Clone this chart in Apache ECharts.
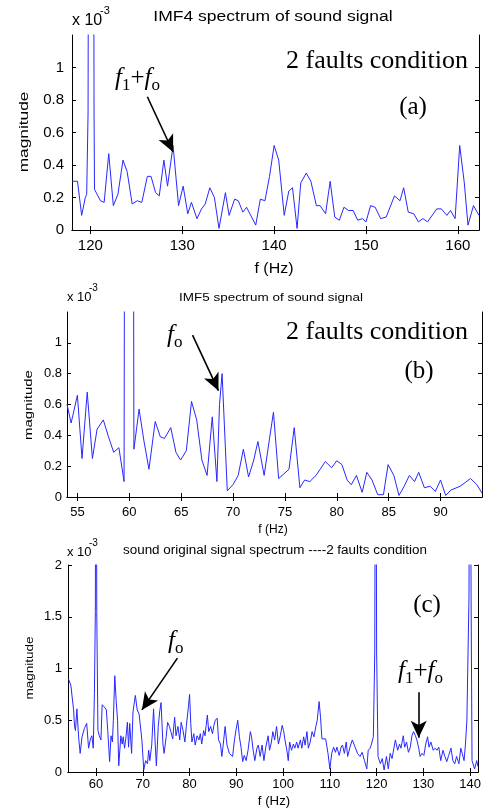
<!DOCTYPE html>
<html>
<head>
<meta charset="utf-8">
<script src="https://cdn.jsdelivr.net/npm/echarts@6/dist/echarts.min.js"></script>
<style>
  html, body { margin: 0; padding: 0; background: #fff; }
  #main { width: 484px; height: 811px; }
</style>
</head>
<body>
<div id="main"></div>
<script>
// panel (a): IMF4 spectrum, magnitude in units of 1e-3
const freqA = [118.0, 118.6, 119.05, 119.45, 119.6, 119.75, 119.85, 120.3, 120.4, 120.45, 121.1, 121.5, 122.0, 122.5, 123.0, 123.55, 124.0, 124.55, 125.1, 125.6, 126.2, 126.6, 127.1, 127.5, 128.0, 128.4, 129.0, 129.6, 130.1, 130.6, 131.0, 131.6, 132.1, 132.5, 133.0, 133.5, 134.0, 134.7, 135.1, 135.7, 136.1, 136.6, 137.0, 138.0, 138.5, 139.0, 139.5, 140.0, 140.5, 141.1, 141.6, 142.0, 142.5, 142.9, 143.5, 144.0, 144.6, 145.0, 145.6, 146.1, 146.6, 147.1, 147.6, 148.1, 148.6, 149.1, 149.6, 150.0, 150.5, 151.0, 151.6, 152.2, 153.1, 153.7, 154.1, 154.6, 155.2, 155.7, 156.2, 156.7, 157.7, 158.2, 158.8, 159.2, 159.7, 160.2, 160.7, 161.1, 161.7, 162.3]
const magA = [0.30, 0.30, 0.09, 0.20, 0.22, 0.72, 4.0, 4.0, 0.72, 0.25, 0.18, 0.17, 0.47, 0.15, 0.22, 0.43, 0.36, 0.16, 0.18, 0.17, 0.33, 0.33, 0.23, 0.21, 0.43, 0.27, 0.52, 0.15, 0.27, 0.10, 0.17, 0.07, 0.13, 0.16, 0.26, 0.20, 0.01, 0.23, 0.09, 0.19, 0.18, 0.11, 0.14, 0.03, 0.19, 0.18, 0.33, 0.52, 0.43, 0.09, 0.24, 0.26, 0.01, 0.29, 0.35, 0.30, 0.15, 0.15, 0.10, 0.30, 0.08, 0.06, 0.14, 0.12, 0.12, 0.06, 0.07, 0.05, 0.15, 0.14, 0.07, 0.08, 0.21, 0.18, 0.26, 0.11, 0.10, 0.05, 0.07, 0.05, 0.13, 0.13, 0.09, 0.12, 0.07, 0.52, 0.29, 0.03, 0.15, 0.09]

// panel (b): IMF5 spectrum
const freqB = [54.0, 54.4, 55.0, 55.45, 55.95, 56.45, 56.9, 57.5, 58.0, 58.5, 59.0, 59.5, 59.6, 60.35, 60.45, 60.95, 61.4, 61.9, 62.5, 63.0, 63.4, 64.0, 64.5, 64.95, 65.5, 66.0, 66.5, 67.0, 67.5, 68.0, 68.45, 68.7, 68.95, 69.45, 70.0, 70.5, 71.0, 71.5, 72.0, 72.4, 73.0, 73.5, 73.9, 74.4, 74.9, 75.4, 75.9, 76.45, 76.9, 77.4, 78.0, 78.4, 78.9, 79.5, 80.0, 80.5, 81.0, 81.4, 81.9, 82.45, 82.9, 83.4, 83.95, 84.5, 84.95, 85.5, 86.0, 86.5, 87.0, 87.5, 87.9, 88.45, 89.0, 89.5, 90.0, 90.5, 91.0, 91.9, 92.9, 93.5, 94.0]
const magB = [0.60, 0.48, 0.66, 0.25, 0.68, 0.25, 0.44, 0.50, 0.39, 0.29, 0.32, 0.10, 4.0, 4.0, 0.31, 0.57, 0.37, 0.18, 0.49, 0.39, 0.38, 0.45, 0.29, 0.24, 0.30, 0.62, 0.50, 0.24, 0.14, 0.52, 0.10, 0.60, 0.80, 0.04, 0.08, 0.14, 0.31, 0.13, 0.24, 0.36, 0.14, 0.37, 0.55, 0.12, 0.15, 0.18, 0.45, 0.06, 0.11, 0.10, 0.14, 0.18, 0.23, 0.19, 0.235, 0.21, 0.11, 0.08, 0.14, 0.03, 0.16, 0.11, 0.015, 0.015, 0.21, 0.14, 0.01, 0.07, 0.14, 0.10, 0.16, 0.06, 0.07, 0.036, 0.11, 0.01, 0.045, 0.07, 0.12, 0.08, 0.025]

// panel (c): original signal spectrum
const freqC = [54.1, 54.6, 55.2, 55.4, 55.6, 55.9, 56.3, 56.6, 57.0, 57.5, 58.0, 58.4, 58.8, 59.1, 59.4, 59.65, 59.85, 60.0, 60.15, 60.4, 60.7, 61.05, 61.3, 61.75, 62.2, 62.5, 62.9, 63.2, 63.5, 63.7, 64.0, 64.3, 64.6, 64.85, 65.3, 65.6, 65.8, 66.1, 66.4, 66.7, 66.95, 67.2, 67.6, 67.9, 68.4, 68.8, 69.2, 69.5, 69.8, 70.2, 70.6, 71.0, 71.25, 71.5, 71.9, 72.3, 72.65, 72.9, 73.3, 73.6, 73.9, 74.3, 74.55, 75.0, 75.3, 75.7, 76.0, 76.4, 76.8, 77.1, 77.5, 77.9, 78.2, 78.6, 79.0, 79.3, 79.75, 80.0, 80.25, 80.5, 80.9, 81.2, 81.6, 82.0, 82.3, 82.6, 83.0, 83.3, 83.55, 83.8, 84.1, 84.5, 84.9, 85.2, 85.5, 85.9, 86.2, 86.6, 86.9, 87.3, 87.6, 88.0, 88.5, 88.8, 89.2, 89.6, 89.9, 90.3, 90.65, 91.0, 91.35, 91.7, 92.1, 92.5, 93.0, 93.25, 93.6, 93.95, 94.4, 94.7, 95.1, 95.5, 95.9, 96.3, 96.8, 97.1, 97.5, 97.8, 98.2, 98.6, 99.0, 99.4, 99.8, 100.1, 100.4, 100.8, 101.1, 101.4, 101.8, 102.2, 102.5, 102.9, 103.2, 103.7, 104.0, 104.4, 104.7, 105.1, 105.4, 105.8, 106.2, 106.6, 107.0, 107.3, 107.7, 108.0, 108.3, 108.7, 109.1, 109.6, 110.0, 110.4, 110.8, 111.2, 111.5, 112.0, 112.4, 112.7, 113.1, 113.5, 113.8, 114.3, 114.8, 115.4, 115.9, 116.45, 116.9, 117.4, 117.9, 118.2, 118.6, 118.9, 119.3, 119.6, 119.8, 120.0, 120.3, 120.8, 121.2, 121.6, 122.1, 122.5, 122.9, 123.3, 123.7, 124.0, 124.5, 124.9, 125.2, 125.7, 126.0, 126.4, 126.8, 127.2, 127.55, 127.9, 128.3, 128.6, 129.0, 129.3, 129.7, 130.1, 130.5, 130.9, 131.2, 131.6, 132.1, 132.5, 132.9, 133.3, 133.7, 134.2, 134.6, 135.0, 135.4, 135.9, 136.3, 136.7, 137.1, 137.6, 138.0, 138.3, 138.7, 139.0, 139.3, 139.75, 139.95, 140.2, 140.4, 140.95, 141.4, 141.7]
const magC = [0.90, 0.84, 0.60, 0.44, 0.40, 0.61, 0.32, 0.18, 0.34, 0.42, 0.47, 0.23, 0.32, 0.35, 0.23, 0.76, 1.55, 5.0, 1.55, 0.40, 0.35, 0.31, 0.65, 0.63, 0.60, 0.40, 0.10, 0.35, 0.29, 0.50, 0.93, 0.69, 0.50, 0.06, 0.35, 0.27, 0.34, 0.23, 0.34, 0.48, 0.24, 0.47, 0.18, 0.58, 0.74, 0.60, 0.56, 0.55, 0.31, 0.02, 0.11, 0.08, 0.21, 0.11, 0.26, 0.61, 0.27, 0.06, 0.44, 0.58, 0.67, 0.27, 0.18, 0.34, 0.48, 0.44, 0.39, 0.32, 0.53, 0.35, 0.44, 0.31, 0.48, 0.40, 0.29, 0.44, 0.63, 0.75, 0.47, 0.29, 0.37, 0.26, 0.35, 0.31, 0.37, 0.27, 0.40, 0.35, 0.45, 0.55, 0.39, 0.44, 0.37, 0.45, 0.50, 0.52, 0.31, 0.27, 0.15, 0.31, 0.44, 0.26, 0.18, 0.19, 0.15, 0.31, 0.40, 0.50, 0.34, 0.24, 0.10, 0.16, 0.11, 0.21, 0.39, 0.34, 0.21, 0.11, 0.23, 0.26, 0.15, 0.26, 0.11, 0.24, 0.35, 0.21, 0.29, 0.39, 0.31, 0.44, 0.27, 0.35, 0.45, 0.40, 0.31, 0.21, 0.11, 0.29, 0.21, 0.27, 0.23, 0.29, 0.23, 0.31, 0.23, 0.34, 0.26, 0.39, 0.23, 0.29, 0.39, 0.34, 0.44, 0.50, 0.68, 0.53, 0.32, 0.31, 0.32, 0.18, 0.03, 0.18, 0.24, 0.19, 0.24, 0.16, 0.24, 0.26, 0.18, 0.29, 0.15, 0.24, 0.31, 0.24, 0.18, 0.15, 0.19, 0.11, 0.03, 0.21, 0.23, 0.27, 0.34, 1.16, 5.0, 1.16, 0.15, 0.08, 0.13, 0.02, 0.15, 0.03, 0.18, 0.13, 0.23, 0.31, 0.21, 0.27, 0.23, 0.35, 0.24, 0.29, 0.19, 0.24, 0.35, 0.39, 0.35, 0.31, 0.23, 0.15, 0.18, 0.16, 0.27, 0.34, 0.24, 0.29, 0.21, 0.23, 0.21, 0.24, 0.11, 0.21, 0.15, 0.10, 0.16, 0.23, 0.11, 0.08, 0.15, 0.08, 0.23, 0.18, 0.11, 0.27, 0.50, 1.69, 5.0, 1.69, 0.11, 0.03, 0.11, 0.05]

// axis ticks
const xTicksA = [120, 130, 140, 150, 160]
const xTicksB = [55, 60, 65, 70, 75, 80, 85, 90]
const xTicksC = [60, 70, 80, 90, 100, 110, 120, 130, 140]
const yTicksAB = [0, 0.2, 0.4, 0.6, 0.8, 1]
const yTicksC = [0, 0.5, 1, 1.5, 2]

// arrows [fromX, fromY, toX, toY] in data units
const arrowsA = [[126.2, 0.82, 129.0, 0.48]]
const arrowsB = [[66.1, 1.05, 68.6, 0.69]]
const arrowsC = [[77.4, 1.10, 69.8, 0.60], [129.0, 0.77, 129.0, 0.33]]

const zip = (xs, ys) => xs.map((x, i) => [x, ys[i]])

const SANS = 'Liberation Sans'
const SERIF = 'Liberation Serif'
const LINE = '#2828ff'

const panels = [
  { grid: { left: 72, top: 35, width: 407, height: 195 }, xmin: 118, xmax: 162.3, ymax: 1.2, xt: xTicksA, yt: yTicksAB, fs: 15, xm: 8, ym: 8, data: zip(freqA, magA), arrows: arrowsA },
  { grid: { left: 67, top: 312, width: 415, height: 185 }, xmin: 54, xmax: 94, ymax: 1.2, xt: xTicksB, yt: yTicksAB, fs: 13, xm: 9, ym: 5, data: zip(freqB, magB), arrows: arrowsB },
  { grid: { left: 68, top: 565, width: 415, height: 207 }, xmin: 54, xmax: 141.7, ymax: 2, xt: xTicksC, yt: yTicksC, fs: 13, xm: 6, ym: 6, data: zip(freqC, magC), arrows: arrowsC }
]

const xAxis = []
const yAxis = []
const series = []

panels.forEach((p, i) => {
  const line = { show: true, lineStyle: { color: '#000', width: 1 } }
  const tick = (vals) => ({ show: true, inside: true, length: 4, lineStyle: { color: '#000' }, customValues: vals })
  xAxis.push({
    type: 'value', gridIndex: i, position: 'bottom', min: p.xmin, max: p.xmax,
    axisLine: line, axisTick: tick(p.xt), splitLine: { show: false },
    axisLabel: { customValues: p.xt, color: '#000', fontFamily: SANS, fontSize: p.fs, margin: p.xm }
  })
  xAxis.push({
    type: 'value', gridIndex: i, position: 'top', min: p.xmin, max: p.xmax,
    axisLine: line, axisTick: tick(p.xt), splitLine: { show: false }, axisLabel: { show: false }
  })
  yAxis.push({
    type: 'value', gridIndex: i, position: 'left', min: 0, max: p.ymax,
    axisLine: line, axisTick: tick(p.yt), splitLine: { show: false },
    axisLabel: { customValues: p.yt, color: '#000', fontFamily: SANS, fontSize: p.fs, margin: p.ym }
  })
  yAxis.push({
    type: 'value', gridIndex: i, position: 'right', min: 0, max: p.ymax,
    axisLine: line, axisTick: tick(p.yt), splitLine: { show: false }, axisLabel: { show: false }
  })
  series.push({
    type: 'line', xAxisIndex: 2 * i, yAxisIndex: 2 * i, data: p.data,
    showSymbol: false, clip: true, lineStyle: { color: LINE, width: 1 },
    markLine: {
      silent: true, symbol: ['none', 'arrow'], symbolSize: [12, 17],
      lineStyle: { color: '#000', width: 1.6, type: 'solid' },
      label: { show: false }, animation: false,
      data: p.arrows.map(a => [{ coord: [a[0], a[1]] }, { coord: [a[2], a[3]] }])
    }
  })
})

function txt(x, y, text, size, opts) {
  opts = opts || {}
  return {
    type: 'text', x: x, y: y, rotation: opts.rot || 0, scaleX: opts.sx || 1,
    style: {
      text: text, fontSize: size, fontFamily: opts.font || SANS, fill: opts.color || '#000',
      align: opts.align || 'center', verticalAlign: opts.va || 'middle', fontStyle: opts.style || 'normal'
    }
  }
}

// italic f with subscript, e.g. f_1 + f_o
function fLabel(x, y, sub1, sub2) {
  const rich = {
    i: { fontFamily: SERIF, fontStyle: 'italic', fontSize: 25, lineHeight: 25, verticalAlign: 'top' },
    n: { fontFamily: SERIF, fontSize: 25, lineHeight: 25, verticalAlign: 'top' },
    s: { fontFamily: SERIF, fontSize: 17, lineHeight: 17, padding: [11, 0, 0, 0], verticalAlign: 'top' }
  }
  const text = sub2 ? `{i|f}{s|${sub1}}{n|+}{i|f}{s|${sub2}}` : `{i|f}{s|${sub1}}`
  return { type: 'text', x: x, y: y, style: { text: text, rich: rich, align: 'left', verticalAlign: 'top', fill: '#000' } }
}

const graphic = [
  // panel (a)
  txt(273, 17, 'IMF4 spectrum of sound signal', 14, { sx: 1.25 }),
  txt(72, 21, 'x 10', 16, { align: 'left' }),
  txt(100, 11, '-3', 11, { align: 'left' }),
  txt(24, 132, 'magnitude', 13, { rot: Math.PI / 2, sx: 1.33 }),
  txt(274, 269, 'f (Hz)', 14, { sx: 1.14 }),
  txt(286, 61, '2 faults condition', 26, { align: 'left', font: SERIF }),
  txt(413, 107, '(a)', 25, { font: SERIF }),
  fLabel(115, 66, '1', 'o'),
  // panel (b)
  txt(271, 298, 'IMF5 spectrum of sound signal', 10.5, { sx: 1.28 }),
  txt(67, 297, 'x 10', 13, { align: 'left' }),
  txt(89, 288, '-3', 10, { align: 'left' }),
  txt(29, 405, 'magnitude', 11, { rot: Math.PI / 2, sx: 1.36 }),
  txt(273, 530, 'f (Hz)', 12),
  txt(286, 332, '2 faults condition', 26, { align: 'left', font: SERIF }),
  txt(419, 371, '(b)', 25, { font: SERIF }),
  fLabel(167, 323, 'o'),
  // panel (c)
  txt(275, 551, 'sound original signal spectrum ----2 faults condition', 12, { sx: 1.12 }),
  txt(67, 552, 'x 10', 13, { align: 'left' }),
  txt(89, 543, '-3', 10, { align: 'left' }),
  txt(30, 668, 'magnitude', 11, { rot: Math.PI / 2, sx: 1.23 }),
  txt(274, 802, 'f (Hz)', 12, { sx: 1.1 }),
  txt(427, 605, '(c)', 25, { font: SERIF }),
  fLabel(168, 629, 'o'),
  fLabel(398, 659, '1', 'o')
]

const chart = echarts.init(document.getElementById('main'))
chart.setOption({
  animation: false,
  backgroundColor: '#fff',
  grid: panels.map(p => Object.assign({ containLabel: false }, p.grid)),
  xAxis: xAxis,
  yAxis: yAxis,
  series: series,
  graphic: graphic
})
</script>
</body>
</html>
